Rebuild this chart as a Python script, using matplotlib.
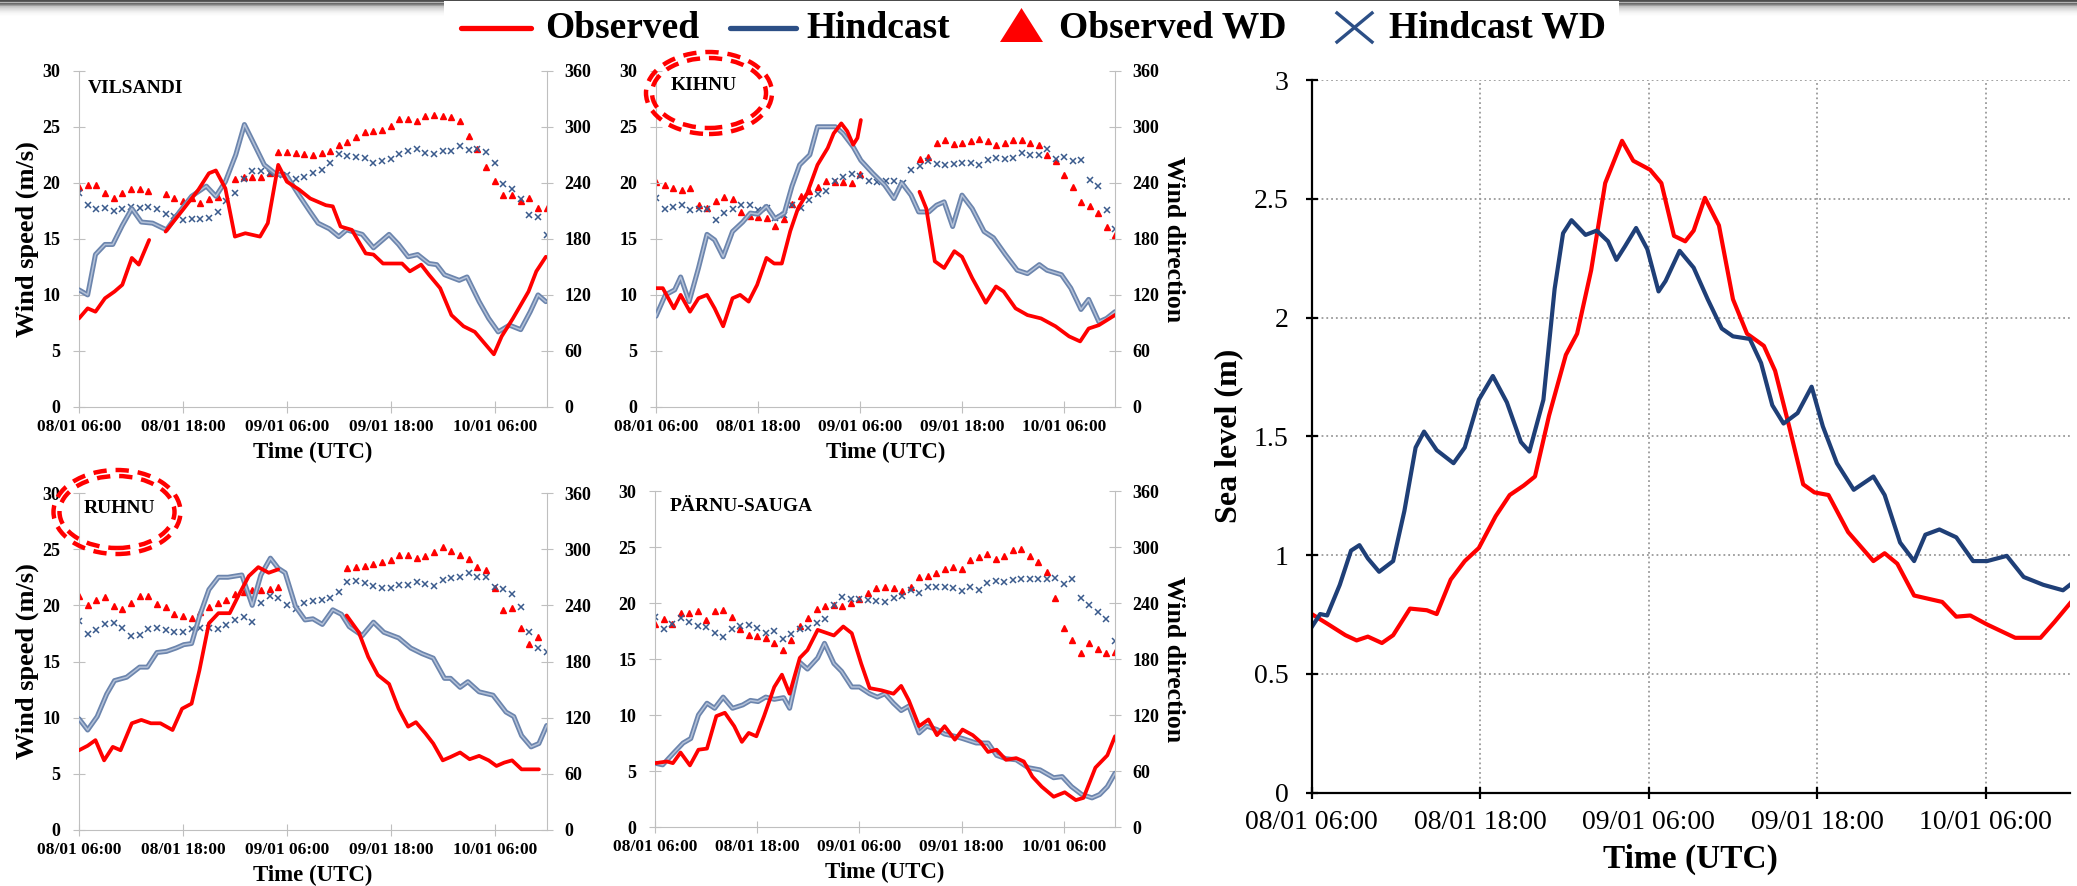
import numpy as np
import matplotlib
matplotlib.use('Agg')
import matplotlib.pyplot as plt
from matplotlib.patches import Ellipse, Rectangle, Polygon
from matplotlib.lines import Line2D
from matplotlib.ticker import FormatStrFormatter

plt.rcParams['font.family'] = ['Liberation Serif', 'DejaVu Serif']
plt.rcParams['font.weight'] = 'bold'
plt.rcParams['axes.labelweight'] = 'bold'

W, H = 2077, 886
nan = np.nan

## time axis: hours since 08/01 06:00
wd_hours = np.arange(55)
time_ticks = [0, 12, 24, 36, 48]
time_labels = ['08/01 06:00', '08/01 18:00', '09/01 06:00', '09/01 18:00', '10/01 06:00']

######## VILSANDI
vil_obs1_t = [0, 1.0, 1.9, 3.0, 4.1, 5.0, 6.1, 6.9, 8.1]
vil_obs1 = [7.9, 8.8, 8.5, 9.7, 10.3, 10.9, 13.3, 12.7, 14.9]
vil_obs2_t = [10.0, 12.1, 13.8, 15.0, 15.8, 16.9, 18.0, 19.2, 20.9, 21.8, 23.0, 24.0, 25.4, 26.7, 28.5, 29.3,
              30.2, 31.5, 33.1, 34.0, 35.1, 37.3, 38.2, 39.5, 40.4, 41.7, 43.0, 44.4, 45.7, 46.8, 47.9, 48.8,
              50.1, 51.9, 52.8, 53.9]
vil_obs2 = [15.65, 17.7, 19.4, 20.85, 21.1, 19.5, 15.2, 15.5, 15.2, 16.4, 21.6, 20.1, 19.4, 18.6, 18.0, 17.9,
            16.1, 15.8, 13.7, 13.6, 12.8, 12.8, 12.1, 12.7, 11.8, 10.6, 8.2, 7.2, 6.7, 5.7, 4.7, 6.3,
            7.9, 10.3, 12.1, 13.4]
vil_hc_t = [0, 1.0, 1.9, 3.0, 3.9, 5.0, 6.1, 7.2, 8.5, 10.1, 11.6, 13.0, 14.7, 15.8, 16.9, 18.1, 19.1, 20.0,
            21.4, 22.7, 24.0, 25.4, 26.7, 27.6, 28.9, 30.0, 30.9, 32.7, 34.0, 35.8, 36.9, 38.0, 39.1, 40.4,
            41.3, 42.2, 43.9, 44.8, 46.2, 47.3, 48.4, 49.7, 51.0, 52.1, 53.0, 53.9]
vil_hc = [10.45, 10.0, 13.6, 14.5, 14.5, 16.2, 17.7, 16.5, 16.4, 15.8, 17.4, 18.8, 19.7, 18.8, 20.1, 22.5, 25.2,
          23.8, 21.6, 20.8, 20.6, 18.9, 17.4, 16.4, 15.9, 15.2, 15.8, 15.4, 14.2, 15.4, 14.5, 13.4, 13.6, 12.8,
          12.7, 11.8, 11.3, 11.6, 9.4, 7.9, 6.7, 7.3, 6.9, 8.5, 10.0, 9.4]
vil_obs_wd = [236, 238, 238, 229, 224, 229, 233, 233, 231, nan, 228, 224, 221, 224, 218, 223, 225, nan,
              244, 246, 246, 246, 251, 273, 273, 272, 271, 270, 272, 274, 280, 284, 289, 294, 295, 296,
              301, 308, 308, 306, 312, 313, 312, 310, 306, 290, 276, 257, 242, 227, 227, 220, 224, 213, 213]
vil_hc_wd = [229, 216, 212, 213, 210, 212, 214, 213, 214, 212, 207, 204, 200, 201, 201, 202, 209, 220, 229,
             244, 253, 253, 251, 248, 248, 244, 246, 250, 254, 261, 271, 269, 268, 267, 261, 263, 265, 271,
             274, 276, 272, 271, 274, 274, 279, 275, 276, 273, 261, 239, 233, 223, 206, 203, 184]

######## KIHNU
kih_obs1_t = [0, 0.8, 2.1, 2.9, 4.0, 5.0, 6.0, 6.9, 7.9, 9.0, 9.9, 10.9, 11.9, 13.0, 13.9, 14.8, 15.8, 16.7,
              17.8, 19.0, 20.2, 20.9, 21.8, 22.5, 23.2, 23.7, 24.1]
kih_obs1 = [10.6, 10.6, 8.8, 10.0, 8.5, 9.7, 10.0, 8.8, 7.2, 9.7, 10.0, 9.4, 10.9, 13.3, 12.8, 12.8, 15.7,
            17.7, 19.1, 21.6, 23.1, 24.4, 25.3, 24.6, 23.4, 24.0, 25.6]
kih_obs2_t = [31.0, 31.8, 32.8, 33.9, 35.1, 36.0, 37.2, 38.8, 40.0, 40.9, 42.3, 43.7, 45.3, 47.0, 48.6, 49.9,
              50.9, 52.1, 54.0]
kih_obs2 = [19.2, 17.7, 13.0, 12.4, 13.9, 13.4, 11.5, 9.3, 10.75, 10.3, 8.8, 8.2, 7.9, 7.2, 6.3, 5.85,
            7.0, 7.3, 8.2]
kih_hc_t = [0, 1.1, 2.2, 2.9, 3.9, 5.0, 6.0, 6.9, 7.9, 9.0, 10.2, 11.1, 12.0, 13.0, 14.0, 15.1, 16.0, 16.9,
            18.1, 19.0, 19.9, 21.1, 22.0, 23.2, 24.1, 25.5, 26.9, 28.0, 28.9, 30.0, 30.9, 32.1, 33.0, 33.9,
            34.9, 36.0, 37.2, 38.6, 39.7, 41.1, 42.5, 43.7, 45.1, 46.0, 47.7, 48.8, 50.0, 50.9, 52.1, 53.0, 54.0]
kih_hc = [8.1, 10.0, 10.45, 11.6, 9.4, 12.4, 15.4, 14.9, 13.4, 15.65, 16.5, 17.3, 17.2, 17.9, 16.8, 17.3, 19.7,
          21.6, 22.5, 25.0, 25.0, 25.0, 24.4, 23.2, 22.0, 20.85, 19.8, 18.6, 20.0, 18.9, 17.4, 17.4, 18.0, 18.3,
          16.1, 18.9, 17.7, 15.65, 15.1, 13.6, 12.2, 11.9, 12.7, 12.2, 11.8, 10.6, 8.7, 9.6, 7.6, 7.9, 8.5]
kih_obs_wd = [241, 238, 234, 232, 234, 216, 213, 221, 225, 223, 209, 204, 203, 202, 194, 201, 217, 226, 231,
              236, 242, 241, 241, 240, 249, nan, nan, nan, nan, nan, nan, 266, 268, 283, 286, 282, 283, 285,
              287, 285, 280, 283, 286, 286, 283, 280, 270, 263, 248, 235, 219, 215, 208, 193, 184]
kih_hc_wd = [224, 212, 214, 216, 211, 212, 212, 200, 208, 212, 216, 216, 211, 213, 202, 206, 216, 213, 222,
             228, 231, 242, 246, 249, 247, 242, 241, 242, 242, 240, 254, 258, 263, 260, 259, 260, 261, 261,
             259, 264, 267, 266, 267, 272, 270, 270, 276, 266, 268, 263, 264, 243, 237, 211, 191]

######## RUHNU
ruh_obs1_t = [0, 1.0, 1.9, 2.9, 3.9, 4.8, 6.1, 7.2, 8.3, 9.4, 10.8, 11.9, 13.0, 13.9, 15.0, 16.1, 17.4, 18.5,
              19.6, 20.7, 21.9, 23.0]
ruh_obs1 = [7.1, 7.5, 8.0, 6.2, 7.4, 7.1, 9.5, 9.8, 9.5, 9.5, 8.9, 10.8, 11.25, 14.2, 18.4, 19.3, 19.3, 21.0,
            22.6, 23.4, 22.9, 23.2]
ruh_obs2_t = [30.9, 32.3, 33.4, 34.5, 35.8, 36.9, 38.0, 38.9, 40.0, 40.9, 42.0, 42.9, 44.0, 45.1, 46.2, 47.3,
              48.2, 49.1, 50.0, 51.1, 53.1]
ruh_obs2 = [19.1, 17.6, 15.4, 13.8, 13.0, 10.8, 9.2, 9.6, 8.6, 7.7, 6.2, 6.5, 6.9, 6.3, 6.6, 6.2,
            5.7, 6.0, 6.2, 5.4, 5.4]
ruh_hc_t = [0, 1.0, 2.1, 3.2, 4.1, 5.5, 7.0, 7.9, 9.0, 10.1, 11.2, 12.1, 13.0, 13.9, 15.0, 16.1, 17.2, 18.8,
            20.0, 21.0, 22.1, 23.0, 23.8, 25.0, 26.1, 27.0, 28.1, 29.3, 30.3, 31.2, 32.7, 34.0, 35.2, 36.9,
            38.3, 39.6, 40.9, 42.2, 42.9, 44.0, 44.9, 46.2, 47.8, 49.3, 50.2, 51.1, 52.2, 53.1, 54.0]
ruh_hc = [9.9, 8.9, 10.1, 12.1, 13.3, 13.6, 14.5, 14.5, 15.8, 15.9, 16.2, 16.5, 16.6, 19.0, 21.4, 22.5, 22.5,
          22.7, 20.0, 22.7, 24.2, 23.3, 22.9, 19.9, 18.7, 18.8, 18.3, 19.6, 19.2, 18.1, 17.3, 18.5, 17.6, 17.1,
          16.2, 15.7, 15.3, 13.5, 13.5, 12.7, 13.2, 12.3, 12.0, 10.5, 10.1, 8.4, 7.4, 7.7, 9.3]
ruh_obs_wd = [250, 240, 246, 249, 239, 236, 243, 250, 250, 241, 238, 231, 229, 226, 233, 238, 243, 246, 252,
              254, 256, 256, 257, 260, nan, nan, nan, nan, nan, nan, nan, 280, 281, 282, 284, 286, 288, 294,
              294, 291, 293, 297, 302, 298, 294, 289, 281, 278, 258, 235, 237, 216, 199, 206, nan]
ruh_hc_wd = [223, 209, 214, 220, 221, 216, 207, 208, 215, 216, 214, 212, 211, 215, 216, 216, 215, 219, 224,
             228, 222, 243, 250, 248, 240, 236, 242, 245, 246, 248, 254, 265, 266, 264, 261, 259, 258, 262,
             262, 265, 263, 261, 267, 269, 270, 275, 270, 270, 260, 257, 252, 238, 212, 194, 190]

######## PARNU-SAUGA
par_obs_t = [0, 1.4, 2.1, 3.0, 4.1, 5.1, 6.1, 7.2, 8.2, 9.3, 10.2, 11.0, 11.9, 12.8, 14.0, 14.9, 15.8, 17.0,
             17.9, 19.1, 21.0, 22.1, 23.1, 24.2, 25.2, 26.6, 28.0, 28.9, 29.8, 31.0, 32.1, 33.1, 34.0, 35.2,
             36.1, 37.3, 38.2, 39.1, 40.1, 41.2, 42.4, 43.3, 44.3, 45.4, 46.8, 48.1, 49.4, 50.3, 51.7, 53.1, 54.0]
par_obs = [5.7, 5.85, 5.7, 6.65, 5.5, 6.9, 7.0, 9.9, 10.2, 9.0, 7.6, 8.4, 8.1, 9.9, 12.5, 13.6, 11.9, 15.1,
           15.8, 17.6, 17.1, 17.9, 17.3, 14.6, 12.4, 12.2, 11.9, 12.6, 11.3, 9.0, 9.6, 8.2, 9.0, 7.8,
           8.7, 8.2, 7.6, 6.7, 6.9, 6.0, 6.15, 5.85, 4.5, 3.6, 2.7, 3.1, 2.4, 2.6, 5.3, 6.4, 8.1]
par_hc_t = [0, 0.9, 2.3, 3.3, 4.2, 5.1, 6.1, 7.0, 8.0, 9.1, 10.3, 11.2, 12.1, 13.0, 14.0, 15.1, 15.8, 17.0,
            17.9, 19.1, 19.9, 21.0, 21.9, 23.1, 24.0, 25.2, 26.1, 27.0, 28.0, 28.9, 29.8, 31.0, 31.9, 33.1,
            34.0, 35.2, 36.1, 37.7, 39.1, 40.1, 41.2, 42.4, 43.8, 45.2, 46.8, 47.8, 48.9, 50.1, 51.3, 52.2,
            53.1, 54.0]
par_hc = [5.7, 5.55, 6.7, 7.5, 7.9, 10.0, 11.05, 10.6, 11.6, 10.6, 10.9, 11.3, 11.2, 11.6, 11.4, 11.55, 10.6,
          14.7, 14.1, 15.1, 16.4, 14.6, 13.9, 12.5, 12.5, 11.9, 11.6, 11.9, 11.05, 10.4, 10.8, 8.4, 9.0, 8.7,
          8.3, 8.1, 7.9, 7.5, 7.5, 6.4, 6.1, 6.0, 5.3, 5.1, 4.4, 4.5, 3.6, 2.9, 2.6, 2.9, 3.6, 4.8]
par_obs_wd = [218, 223, 218, 229, 229, 231, 222, 231, 232, 225, 212, 206, 205, 202, 197, 190, 200, 215, 224,
              234, 237, 238, 237, 240, 244, 251, 256, 257, 256, 253, 257, 268, 269, 272, 276, 279, 276, 286,
              289, 292, 287, 290, 297, 298, 290, 284, 273, 245, 213, 200, 186, 197, 191, 186, 188]
par_hc_wd = [225, 212, 218, 224, 220, 215, 214, 208, 204, 212, 215, 216, 213, 208, 210, 201, 207, 212, 213,
             219, 223, 238, 246, 244, 244, 243, 242, 241, 245, 247, 254, 251, 257, 257, 257, 256, 253, 257,
             254, 261, 264, 263, 265, 266, 266, 266, 266, 267, 260, 266, 245, 238, 230, 223, 199]

######## Sea level
sl_obs_t = [0, 1.2, 2.4, 3.2, 4.0, 5.0, 5.8, 7.0, 8.2, 8.9, 9.9, 10.9, 11.9, 13.1, 14.1, 15.1, 15.9, 16.9,
            18.1, 18.9, 19.9, 20.9, 22.1, 22.9, 24.1, 24.9, 25.8, 26.6, 27.2, 28.0, 29.0, 30.0, 31.0, 32.2,
            33.0, 34.0, 35.0, 35.8, 36.8, 38.2, 40.0, 40.8, 41.7, 42.9, 44.9, 45.9, 46.9, 48.1, 50.1, 51.9,
            52.9, 54.0]
sl_obs = [0.752, 0.708, 0.663, 0.641, 0.657, 0.630, 0.663, 0.775, 0.768, 0.752, 0.897, 0.975, 1.03, 1.164,
          1.253, 1.293, 1.331, 1.587, 1.843, 1.932, 2.199, 2.566, 2.744, 2.66, 2.622, 2.566, 2.344, 2.321,
          2.366, 2.504, 2.388, 2.077, 1.932, 1.881, 1.776, 1.542, 1.298, 1.264, 1.253, 1.097, 0.975, 1.008,
          0.964, 0.83, 0.803, 0.741, 0.746, 0.708, 0.652, 0.652, 0.719, 0.797]
sl_hc_t = [0, 0.6, 1.1, 2.0, 2.8, 3.4, 4.0, 4.8, 5.8, 6.6, 7.4, 8.0, 8.9, 10.1, 10.9, 11.9, 12.9, 13.9, 14.9,
           15.5, 16.5, 17.3, 17.9, 18.5, 19.5, 20.3, 21.1, 21.7, 22.3, 23.1, 23.9, 24.7, 25.2, 26.2, 27.2,
           28.2, 29.2, 30.0, 31.2, 32.0, 32.8, 33.6, 34.6, 35.6, 36.4, 37.4, 38.6, 40.0, 40.8, 41.9, 42.9,
           43.7, 44.7, 45.9, 47.1, 48.1, 49.5, 50.7, 52.1, 53.5, 54.0]
sl_hc = [0.697, 0.752, 0.746, 0.875, 1.019, 1.042, 0.986, 0.93, 0.975, 1.186, 1.453, 1.52, 1.442, 1.387,
         1.453, 1.654, 1.754, 1.643, 1.476, 1.436, 1.654, 2.121, 2.355, 2.41, 2.348, 2.366, 2.321, 2.243,
         2.299, 2.377, 2.288, 2.11, 2.154, 2.281, 2.21, 2.077, 1.954, 1.921, 1.91, 1.809, 1.631, 1.554,
         1.598, 1.709, 1.542, 1.387, 1.275, 1.331, 1.253, 1.053, 0.975, 1.086, 1.108, 1.075, 0.975, 0.975,
         0.997, 0.908, 0.875, 0.852, 0.875]

RED = '#ff0000'
HC_DARK = '#1f3f77'
HC_OUT = '#6c85ad'
HC_IN = '#b3c1d8'
GREY = '#bfbfbf'

fig = plt.figure(figsize=(W / 100, H / 100), dpi=100)


def fx(px):
    return px / W


def fy(py):
    return 1 - py / H


def wind_panel(left, top, right, bottom, name, name_xy, obs_segs, hc_t, hc_v, obs_wd, hc_wd, left_label):
    ax = fig.add_axes([fx(left), fy(bottom), fx(right - left), (bottom - top) / H])
    ax2 = ax.twinx()
    ## direction markers on twin axis
    ax2.plot(wd_hours, obs_wd, linestyle='none', marker='^', ms=4.2, color=RED, mec=RED)
    ax2.plot(wd_hours, hc_wd, linestyle='none', marker='x', ms=5, mew=1.1, color='#3a5a8c')
    ## speed lines
    ax.plot(hc_t, hc_v, color=HC_OUT, lw=3.6, solid_joinstyle='round', solid_capstyle='round', zorder=3)
    ax.plot(hc_t, hc_v, color=HC_IN, lw=1.1, solid_joinstyle='round', zorder=3)
    for t, v in obs_segs:
        ax.plot(t, v, color=RED, lw=2.7, solid_joinstyle='round', solid_capstyle='round', zorder=4)
    ax.set_zorder(ax2.get_zorder() + 1)
    ax.patch.set_visible(False)

    ax.set_xlim(0, 54)
    ax.set_ylim(0, 30)
    ax2.set_ylim(0, 360)
    ax.set_yticks(np.arange(0, 31, 5))
    ax2.set_yticks(np.arange(0, 361, 60))
    ax.set_xticks(time_ticks)
    ax.set_xticklabels(time_labels)
    for a in (ax, ax2):
        for s in a.spines.values():
            s.set_color(GREY)
        a.spines['top'].set_visible(False)
    ax.spines['right'].set_visible(False)
    ax2.spines['left'].set_visible(False)
    ax2.spines['bottom'].set_visible(False)
    ax.tick_params(axis='x', direction='inout', length=9, color=GREY, labelsize=12.5, pad=4)
    ax.tick_params(axis='y', direction='inout', length=9, color=GREY, labelsize=13, pad=9)
    ax2.tick_params(axis='y', direction='inout', length=9, color=GREY, labelsize=13, pad=8)
    ax.set_xlabel('Time (UTC)', fontsize=16.5, fontweight='bold', labelpad=5)
    if left_label:
        ax.set_ylabel('Wind speed (m/s)', fontsize=19, fontweight='bold', labelpad=2)
    else:
        ax2.set_ylabel('Wind direction', fontsize=18.5, fontweight='bold', rotation=270, va='bottom', labelpad=2)
    ax.text(name_xy[0], name_xy[1], name, transform=ax.transAxes, fontsize=14, va='center', ha='left')
    return ax


wind_panel(79, 70.7, 546.7, 407, 'VILSANDI', (0.019, 0.947),
           [(vil_obs1_t, vil_obs1), (vil_obs2_t, vil_obs2)], vil_hc_t, vil_hc, vil_obs_wd, vil_hc_wd, True)
wind_panel(656, 70.7, 1115, 407, 'KIHNU', (0.031, 0.957),
           [(kih_obs1_t, kih_obs1), (kih_obs2_t, kih_obs2)], kih_hc_t, kih_hc, kih_obs_wd, kih_hc_wd, False)
wind_panel(79, 493, 546.7, 830, 'RUHNU', (0.01, 0.955),
           [(ruh_obs1_t, ruh_obs1), (ruh_obs2_t, ruh_obs2)], ruh_hc_t, ruh_hc, ruh_obs_wd, ruh_hc_wd, True)
wind_panel(655, 491, 1115, 827, 'PÄRNU-SAUGA', (0.031, 0.955),
           [(par_obs_t, par_obs)], par_hc_t, par_hc, par_obs_wd, par_hc_wd, False)

## sea level panel
axs = fig.add_axes([fx(1311.7), fy(792.7), fx(2070 - 1311.7), (792.7 - 80) / H])
axs.plot(sl_obs_t, sl_obs, color=RED, lw=3.0, solid_joinstyle='round')
axs.plot(sl_hc_t, sl_hc, color=HC_DARK, lw=3.0, solid_joinstyle='round')
axs.set_xlim(0, 54)
axs.set_ylim(0, 3)
axs.set_yticks(np.arange(0, 3.01, 0.5))
axs.yaxis.set_major_formatter(FormatStrFormatter('%g'))
axs.set_xticks(time_ticks)
axs.set_xticklabels(time_labels)
axs.grid(True, linestyle=':', color='#9a9a9a', lw=1.3)
axs.spines['top'].set_visible(False)
axs.spines['right'].set_visible(False)
for s in ('left', 'bottom'):
    axs.spines[s].set_linewidth(1.6)
axs.tick_params(direction='inout', length=9, width=1.6, labelsize=20, pad=8)
for lab in axs.get_xticklabels() + axs.get_yticklabels():
    lab.set_fontweight('normal')
axs.tick_params(axis='y', pad=12)
axs.set_xlabel('Time (UTC)', fontsize=24, fontweight='bold', labelpad=6)
axs.set_ylabel('Sea level (m)', fontsize=23, fontweight='bold', labelpad=8)

## red double dashed ellipses round two station names
for cx, cy, w, h in [(709, 93, 120, 76), (117, 512, 121, 78)]:
    for d in (-6, 6):
        e = Ellipse((fx(cx), fy(cy)), (w + d) / W, (h + d) / H, transform=fig.transFigure,
                    fill=False, edgecolor=RED, lw=3.2, linestyle=(0, (3.0, 2.0)), zorder=10)
        fig.add_artist(e)

## top bar with shadow
grad = np.array([0.3, 0.36, 0.7, 0.42, 0.5, 0.62, 0.76, 0.8, 0.84, 0.87, 0.9, 0.93, 0.95, 0.97, 0.98, 0.99, 1.0])
axt = fig.add_axes([0, fy(17), 1, 17 / H])
axt.imshow(grad[:, None], cmap='gray', vmin=0, vmax=1, aspect='auto')
axt.axis('off')

## legend
fig.add_artist(Rectangle((fx(444), fy(46)), fx(1619 - 444), 45 / H, transform=fig.transFigure,
                         facecolor='white', edgecolor='none', zorder=20))
fig.add_artist(Line2D([fx(461), fx(531)], [fy(27.5), fy(27.5)], transform=fig.transFigure,
                      color=RED, lw=3.8, solid_capstyle='round', zorder=21))
fig.add_artist(Line2D([fx(730), fx(796)], [fy(27.5), fy(27.5)], transform=fig.transFigure,
                      color='#2c4f86', lw=3.8, solid_capstyle='round', zorder=21))
fig.add_artist(Polygon([(fx(1000), fy(42)), (fx(1043), fy(42)), (fx(1021.5), fy(8))], closed=True,
                       transform=fig.transFigure, facecolor=RED, edgecolor='none', zorder=21))
fig.add_artist(Line2D([fx(1337), fx(1372)], [fy(13), fy(42)], transform=fig.transFigure,
                      color='#2c4f86', lw=2.4, zorder=21))
fig.add_artist(Line2D([fx(1337), fx(1372)], [fy(42), fy(13)], transform=fig.transFigure,
                      color='#2c4f86', lw=2.4, zorder=21))
for x, s in [(545, 'Observed'), (806, 'Hindcast'), (1059, 'Observed WD'), (1389, 'Hindcast WD')]:
    fig.text(fx(x), fy(38), s, fontsize=27, ha='left', va='baseline', zorder=22)

fig.savefig('out.png', dpi=100)
